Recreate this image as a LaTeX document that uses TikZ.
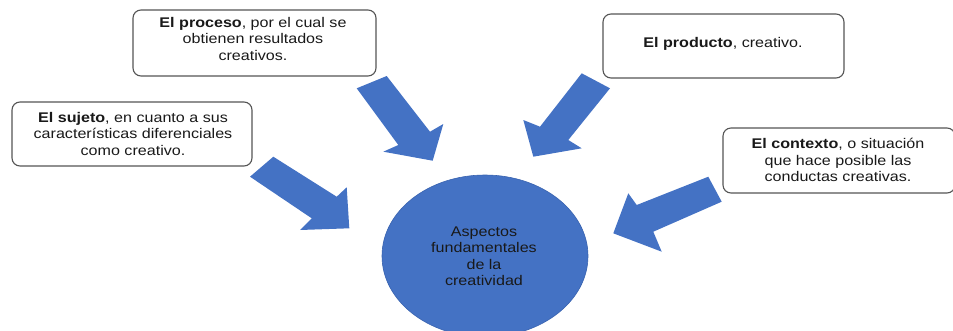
\documentclass[tikz,border=0pt]{standalone}
\usepackage{fontspec}
\setmainfont[FakeStretch=1.15]{Liberation Sans}
\usetikzlibrary{shapes.geometric}
\definecolor{officeblue}{RGB}{68,114,196}
\definecolor{edgeblue}{RGB}{56,98,175}
\definecolor{boxedge}{RGB}{85,85,85}
\definecolor{inktext}{RGB}{25,25,25}
\tikzset{
  x=1pt, y=-1pt,
  txt/.style={font=\fontsize{14}{16.5}\selectfont, align=center, text=inktext, inner sep=0pt},
  infobox/.style={draw=boxedge, line width=1.1pt, rounded corners=8pt, fill=white, inner sep=0pt},
  blockarrow/.style={fill=officeblue, draw=none},
}
\begin{document}
\begin{tikzpicture}
\useasboundingbox (0,0) rectangle (953,330);
% boxes
\node[infobox, minimum width=240pt, minimum height=64pt] (sujeto) at (132,134) {};
\node[txt] (sujetotxt) at (133,133.5) {\textbf{El sujeto}, en cuanto a sus\\características diferenciales\\como creativo.};
\node[infobox, minimum width=243pt, minimum height=66pt] (proceso) at (254.5,43) {};
\node[txt] (procesotxt) at (253,38.5) {\textbf{El proceso}, por el cual se\\obtienen resultados\\creativos.};
\node[infobox, minimum width=241pt, minimum height=64pt] (producto) at (723.5,46) {};
\node[txt] (productotxt) at (723,44) {\textbf{El producto}, creativo.};
\node[infobox, minimum width=232pt, minimum height=65pt] (contexto) at (839,160.5) {};
\node[txt] (contextotxt) at (838,160) {\textbf{El contexto}, o situación\\que hace posible las\\conductas creativas.};
% center ellipse
\node[ellipse, fill=officeblue, draw=edgeblue, line width=0.6pt, minimum width=206pt, minimum height=162pt, inner sep=0pt] (core) at (485,256) {};
\node[txt] (coretxt) at (484,256) {Aspectos\\fundamentales\\de la\\creatividad};
% block arrows
\fill[blockarrow] (273.3,156.7) -- (336.7,196.7) -- (346.7,187.3) -- (349.3,228.3) -- (300,230) -- (311.7,218.3) -- (250,176.7) -- cycle;
\fill[blockarrow] (386.7,76) -- (430,131.7) -- (443.3,124) -- (432.7,160.7) -- (383.3,151.7) -- (398.3,145) -- (356.7,88.3) -- cycle;
\fill[blockarrow] (581.7,73.3) -- (610,88.3) -- (568.3,140) -- (581.7,148.3) -- (533.3,156.7) -- (523.3,120) -- (540,126.7) -- cycle;
\fill[blockarrow] (708.3,176.7) -- (721.7,201.7) -- (653.3,231.7) -- (661.7,251.7) -- (613.3,233.3) -- (628.3,193.3) -- (636.7,205) -- cycle;
\end{tikzpicture}
\end{document}
